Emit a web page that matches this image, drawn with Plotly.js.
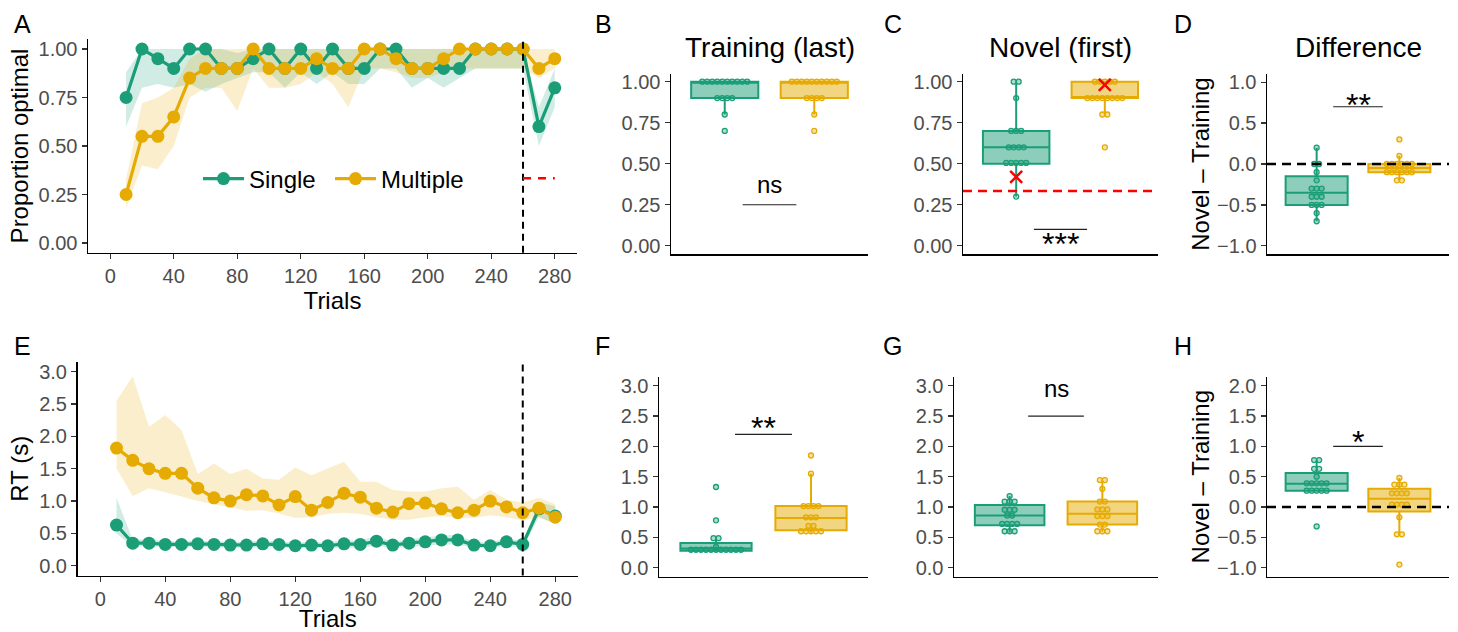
<!DOCTYPE html>
<html><head><meta charset="utf-8">
<script src="https://cdn.plot.ly/plotly-3.0.1.min.js"></script>
<style>html,body{margin:0;padding:0;background:#fff}#chart{width:1458px;height:632px}</style>
</head><body><div id="chart"></div>
<script>
// ---------------- data ----------------
const trials = [10,20,30,40,50,60,70,80,90,100,110,120,130,140,150,160,170,180,190,200,210,220,230,240,250,260,270,280];
const groups = ['Single','Multiple'];

// Panel A: proportion optimal per block
const propSingle   = [0.75,1.00,0.95,0.90,1.00,1.00,0.90,0.90,0.95,1.00,0.90,1.00,0.90,1.00,0.90,0.90,1.00,1.00,0.90,0.90,0.90,0.90,1.00,1.00,1.00,1.00,0.60,0.80];
const propSingleLo = [0.60,0.80,0.82,0.80,0.82,0.78,0.82,0.85,0.88,0.88,0.80,0.88,0.82,0.88,0.82,0.82,0.90,0.90,0.80,0.85,0.80,0.85,0.90,0.90,0.90,0.90,0.50,0.70];
const propSingleHi = [0.88,1.00,1.00,1.00,1.00,1.00,1.00,0.98,1.00,1.00,1.00,1.00,1.00,1.00,1.00,1.00,1.00,1.00,1.00,1.00,1.00,1.00,1.00,1.00,1.00,1.00,0.70,0.90];
const propMultiple   = [0.25,0.55,0.55,0.65,0.85,0.90,0.90,0.90,1.00,0.90,0.90,0.90,0.95,0.90,0.90,1.00,1.00,0.95,0.90,0.90,0.95,1.00,1.00,1.00,1.00,1.00,0.90,0.95];
const propMultipleLo = [0.18,0.40,0.38,0.50,0.75,0.80,0.80,0.68,0.90,0.80,0.80,0.82,0.88,0.82,0.70,0.90,0.90,0.88,0.85,0.85,0.88,0.90,0.90,0.90,0.90,0.90,0.85,0.90];
const propMultipleHi = [0.33,0.72,0.75,0.80,0.95,1.00,1.00,1.00,1.00,1.00,1.00,1.00,1.00,1.00,1.00,1.00,1.00,1.00,1.00,1.00,1.00,1.00,1.00,1.00,1.00,1.00,1.00,1.00];

// Panel E: RT per block
const rtSingle   = [0.63,0.35,0.35,0.33,0.33,0.34,0.33,0.32,0.32,0.34,0.33,0.31,0.32,0.31,0.34,0.33,0.38,0.32,0.35,0.37,0.40,0.40,0.32,0.31,0.37,0.33,0.88,0.77];
const rtSingleLo = [0.50,0.30,0.30,0.29,0.29,0.29,0.29,0.28,0.28,0.29,0.28,0.27,0.27,0.27,0.28,0.28,0.31,0.27,0.30,0.31,0.33,0.33,0.28,0.27,0.31,0.28,0.75,0.65];
const rtSingleHi = [1.05,0.40,0.42,0.38,0.38,0.39,0.38,0.37,0.37,0.39,0.38,0.36,0.37,0.36,0.40,0.39,0.46,0.37,0.41,0.44,0.47,0.48,0.37,0.36,0.43,0.38,0.98,0.92];
const rtMultiple   = [1.82,1.63,1.50,1.43,1.43,1.20,1.05,1.00,1.10,1.08,0.94,1.07,0.86,0.98,1.12,1.06,0.89,0.83,0.96,0.97,0.88,0.82,0.86,1.00,0.91,0.82,0.89,0.75];
const rtMultipleLo = [1.50,1.08,1.20,1.13,1.07,1.00,0.95,0.90,0.85,0.86,0.81,0.74,0.75,0.80,0.82,0.80,0.75,0.71,0.71,0.75,0.77,0.74,0.74,0.78,0.75,0.70,0.75,0.65];
const rtMultipleHi = [2.55,2.93,2.15,2.33,2.10,1.42,1.58,1.42,1.50,1.35,1.33,1.52,1.40,1.50,1.61,1.30,1.30,1.17,1.15,1.15,1.20,1.22,1.02,1.17,1.02,0.98,1.05,0.95];

// Panels B-D: proportion optimal per participant
const trainLastSingle   = [1,1,1,1,1,1,1,1,1,1,0.9,0.9,0.9,0.9,0.8,0.7];
const trainLastMultiple = [1,1,1,1,1,1,1,1,1,1,0.9,0.9,0.9,0.9,0.8,0.7];
const novelFirstSingle   = [1,1,0.9,0.7,0.7,0.7,0.6,0.6,0.6,0.6,0.51,0.5,0.5,0.5,0.5,0.3];
const novelFirstMultiple = [1,1,1,1,1,0.9,0.9,0.9,0.9,0.9,0.9,0.9,0.9,0.8,0.8,0.6];
const novelModel = [0.42, 0.98];
const diffPropSingle   = [0.2,0,0,-0.1,-0.2,-0.3,-0.3,-0.3,-0.4,-0.4,-0.4,-0.5,-0.5,-0.5,-0.6,-0.7];
const diffPropMultiple = [0.3,0.1,0,0,0,0,0,0,-0.1,-0.1,-0.1,-0.1,-0.1,-0.1,-0.2,-0.2];

// Panels F-H: RT per participant
const rtTrainSingle   = [0.26,0.27,0.27,0.28,0.28,0.29,0.30,0.31,0.32,0.33,0.33,0.34,0.47,0.50,0.78,1.33];
const rtTrainMultiple = [0.58,0.59,0.60,0.61,0.62,0.68,0.70,0.81,0.83,0.85,1.00,1.01,1.02,1.03,1.55,1.85];
const rtNovelSingle   = [0.58,0.60,0.62,0.68,0.72,0.74,0.76,0.84,0.88,0.92,0.97,0.99,1.08,1.09,1.10,1.18];
const rtNovelMultiple = [0.59,0.60,0.61,0.70,0.72,0.84,0.85,0.86,0.92,0.99,1.00,1.08,1.10,1.30,1.44,1.45];
const rtDiffSingle   = [-0.32,0.26,0.26,0.27,0.27,0.28,0.38,0.38,0.39,0.39,0.40,0.50,0.62,0.64,0.77,0.78];
const rtDiffMultiple = [-0.95,-0.46,-0.44,-0.17,0.02,0.03,0.04,0.06,0.21,0.22,0.23,0.24,0.36,0.37,0.38,0.48];

const chanceLevel = 1/3;
const switchTrial = 260;

// ---------------- styling ----------------
const W = 1458, H = 632;
const FONT = 'Liberation Sans, Arial, Helvetica, sans-serif';
const COL = ['#1B9E77', '#E6AB02'];
const BOXFILL = ['rgba(27,158,119,0.5)', 'rgba(230,171,2,0.5)'];
const DOTFILL = ['rgba(27,158,119,0.35)', 'rgba(230,171,2,0.35)'];
const RIB = ['rgba(27,158,119,0.2)', 'rgba(230,171,2,0.2)'];
const POS = [1, 2];
const LEGENDS = ['legend', 'legend2'];

function dxd(a, b) { return [a / W, b / W]; }
function dyd(top, bottom) { return [1 - bottom / H, 1 - top / H]; }

const traces = [];
function ribbon(x, lo, hi, color, xa, ya) {
  traces.push({type:'scatter', mode:'lines', x: x.concat(x.slice().reverse()),
    y: hi.concat(lo.slice().reverse()), fill:'toself', fillcolor: color,
    line:{width:0}, hoverinfo:'skip', showlegend:false, xaxis:xa, yaxis:ya});
}
function series(x, y, gi, xa, ya, showlegend) {
  traces.push({type:'scatter', mode:'lines+markers', name: groups[gi], x: x, y: y,
    line:{color: COL[gi], width:3.2}, marker:{color: COL[gi], size:13},
    showlegend: showlegend, legend: LEGENDS[gi], xaxis:xa, yaxis:ya});
}
function stackDots(vals, center, binw, step) {
  const s = vals.slice().sort((a, b) => a - b);
  const xs = [], ys = [];
  let i = 0;
  while (i < s.length) {
    let j = i;
    while (j + 1 < s.length && s[j + 1] - s[i] < binw) j++;
    const n = j - i + 1, yc = (s[i] + s[j]) / 2;
    for (let k = 0; k < n; k++) { xs.push(center + (k - (n - 1) / 2) * step); ys.push(yc); }
    i = j + 1;
  }
  return {xs, ys};
}
function boxPanel(xa, ya, sets, binw, widthPx) {
  const step = 5.0 / (widthPx / 2.2);
  sets.forEach((d, gi) => {
    traces.push({type:'box', y: d, x0: POS[gi], width: 0.75, name: groups[gi],
      boxpoints:'outliers', marker:{opacity:0, size:1}, whiskerwidth:0, fillcolor: BOXFILL[gi],
      line:{color: COL[gi], width:2}, showlegend:false, hoverinfo:'skip', xaxis:xa, yaxis:ya});
  });
  sets.forEach((d, gi) => {
    const s = stackDots(d, POS[gi], binw, step);
    traces.push({type:'scatter', mode:'markers', x: s.xs, y: s.ys,
      marker:{size:5, color: DOTFILL[gi], line:{color: COL[gi], width:1.3}},
      showlegend:false, hoverinfo:'skip', xaxis:xa, yaxis:ya});
  });
}

// Panel A
ribbon(trials, propSingleLo, propSingleHi, RIB[0], 'x', 'y');
ribbon(trials, propMultipleLo, propMultipleHi, RIB[1], 'x', 'y');
series(trials, propSingle, 0, 'x', 'y', true);
series(trials, propMultiple, 1, 'x', 'y', true);
// Panel E
ribbon(trials, rtSingleLo, rtSingleHi, RIB[0], 'x5', 'y5');
ribbon(trials, rtMultipleLo, rtMultipleHi, RIB[1], 'x5', 'y5');
series(trials, rtSingle, 0, 'x5', 'y5', false);
series(trials, rtMultiple, 1, 'x5', 'y5', false);

// Box panels
const PX = {
  x2:[671,868], x3:[963,1158], x4:[1267,1449],
  x6:[659,868], x7:[954,1158], x8:[1267,1449]
};
boxPanel('x2','y2',[trainLastSingle, trainLastMultiple], 0.05, PX.x2[1]-PX.x2[0]);
boxPanel('x3','y3',[novelFirstSingle, novelFirstMultiple], 0.05, PX.x3[1]-PX.x3[0]);
traces.push({type:'scatter', mode:'markers', x: POS, y: novelModel,
  marker:{symbol:'x-thin', size:12, line:{color:'#FF0000', width:2.5}},
  showlegend:false, hoverinfo:'skip', xaxis:'x3', yaxis:'y3'});
boxPanel('x4','y4',[diffPropSingle, diffPropMultiple], 0.05, PX.x4[1]-PX.x4[0]);
boxPanel('x6','y6',[rtTrainSingle, rtTrainMultiple], 0.08, PX.x6[1]-PX.x6[0]);
boxPanel('x7','y7',[rtNovelSingle, rtNovelMultiple], 0.08, PX.x7[1]-PX.x7[0]);
boxPanel('x8','y8',[rtDiffSingle, rtDiffMultiple], 0.08, PX.x8[1]-PX.x8[0]);

// ---------------- axes ----------------
const tickfont = {family: FONT, size: 20, color: '#4D4D4D'};
const titlefont = {family: FONT, size: 24, color: '#000'};
function yAx(domain, range, dtick, fmt, title, standoff) {
  const a = {domain, range, dtick, tick0: 0, tickformat: fmt, showgrid:false, zeroline:false,
    showline:true, linecolor:'#000', linewidth:1.5, ticks:'outside', ticklen:5,
    tickcolor:'#333', tickwidth:1.3, tickfont, fixedrange:true};
  if (title) a.title = {text: title, font: titlefont, standoff: standoff};
  return a;
}
function xTrials(domain, anchor) {
  return {domain, anchor, range:[-14, 294], tickvals:[0,40,80,120,160,200,240,280],
    showgrid:false, zeroline:false, showline:true, linecolor:'#000', linewidth:1.5,
    ticks:'outside', ticklen:5, tickcolor:'#333', tickwidth:1.3, tickfont,
    title:{text:'Trials', font: titlefont, standoff: 0}};
}
function xBox(domain, anchor) {
  return {domain, anchor, type:'linear', range:[0.4, 2.6], showticklabels:false, ticks:'',
    showgrid:false, zeroline:false, showline:true, linecolor:'#000', linewidth:1.5};
}
function legendAt(xpx) {
  return {orientation:'h', x: xpx / W, y: 1 - 179 / H, xanchor:'left', yanchor:'middle',
    font:{family: FONT, size: 24, color:'#000'}, bgcolor:'rgba(0,0,0,0)', itemwidth:41};
}

const layout = {
  width: W, height: H, margin:{l:0, r:0, t:0, b:0},
  paper_bgcolor:'#fff', plot_bgcolor:'rgba(0,0,0,0)',
  font:{family: FONT, color:'#000'},
  showlegend: true,
  legend: legendAt(198),
  legend2: legendAt(330),
  xaxis: xTrials(dxd(88, 577), 'y'),
  yaxis: Object.assign(yAx(dyd(39.3, 252.7), [-0.05, 1.05], 0.25, '.2f', 'Proportion optimal', 3), {anchor:'x'}),
  xaxis2: xBox(dxd(671, 868), 'y2'),
  yaxis2: Object.assign(yAx(dyd(73.5, 254), [-0.05, 1.05], 0.25, '.2f'), {anchor:'x2'}),
  xaxis3: xBox(dxd(963, 1158), 'y3'),
  yaxis3: Object.assign(yAx(dyd(73.5, 254), [-0.05, 1.05], 0.25, '.2f'), {anchor:'x3'}),
  xaxis4: xBox(dxd(1267, 1449), 'y4'),
  yaxis4: Object.assign(yAx(dyd(74, 254), [-1.1, 1.1], 0.5, '.1f', 'Novel \u2013 Training', 0), {anchor:'x4'}),
  xaxis5: xTrials(dxd(77.5, 578), 'y5'),
  yaxis5: Object.assign(yAx(dyd(362, 575.5), [-0.15, 3.15], 0.5, '.1f', 'RT (s)', 4), {anchor:'x5'}),
  xaxis6: xBox(dxd(659, 868), 'y6'),
  yaxis6: Object.assign(yAx(dyd(376.7, 576.7), [-0.15, 3.15], 0.5, '.1f'), {anchor:'x6'}),
  xaxis7: xBox(dxd(954, 1158), 'y7'),
  yaxis7: Object.assign(yAx(dyd(376.7, 576.7), [-0.15, 3.15], 0.5, '.1f'), {anchor:'x7'}),
  xaxis8: xBox(dxd(1267, 1449), 'y8'),
  yaxis8: Object.assign(yAx(dyd(376.7, 576.7), [-1.15, 2.15], 0.5, '.1f', 'Novel \u2013 Training', 0), {anchor:'x8'}),
  shapes: [],
  annotations: []
};

// reference lines
const dash = {color:'#000', width:2, dash:'7px,5px'};
layout.shapes.push({type:'line', xref:'x', yref:'y domain', x0: switchTrial, x1: switchTrial, y0:0, y1:1, line: dash});
layout.shapes.push({type:'line', xref:'x5', yref:'y5 domain', x0: switchTrial, x1: switchTrial, y0:0, y1:1, line: dash});
layout.shapes.push({type:'line', xref:'x', yref:'y', x0: switchTrial, x1: trials[trials.length-1], y0: chanceLevel, y1: chanceLevel,
  line:{color:'#FF0000', width:2.5, dash:'8px,7px'}});
layout.shapes.push({type:'line', xref:'x3 domain', yref:'y3', x0:0, x1:1, y0: chanceLevel, y1: chanceLevel,
  line:{color:'#FF0000', width:2.5, dash:'9px,6px'}});
layout.shapes.push({type:'line', xref:'x4 domain', yref:'y4', x0:0, x1:1, y0:0, y1:0, line:{color:'#000', width:2.5, dash:'9px,6px'}});
layout.shapes.push({type:'line', xref:'x8 domain', yref:'y8', x0:0, x1:1, y0:0, y1:0, line:{color:'#000', width:2.5, dash:'9px,6px'}});

// significance brackets
const sig = [
  {ax:'2', y:0.25, label:'ns', ty:0.38, size:24, shift:-1},
  {ax:'3', y:0.10, label:'***', ty:0.045, size:32, shift:-6},
  {ax:'4', y:0.70, label:'**', ty:0.82, size:32, shift:-8},
  {ax:'6', y:2.2, label:'**', ty:2.43, size:32, shift:-8},
  {ax:'7', y:2.5, label:'ns', ty:2.97, size:24, shift:-1},
  {ax:'8', y:1.0, label:'*', ty:1.2, size:32, shift:-8}
];
sig.forEach(s => {
  layout.shapes.push({type:'line', xref:'x'+s.ax, yref:'y'+s.ax, x0:1.2, x1:1.8, y0:s.y, y1:s.y, line:{color:'#222', width:1.2}});
  layout.annotations.push({xref:'x'+s.ax, yref:'y'+s.ax, x:1.5, y:s.ty, text:s.label, showarrow:false,
    xanchor:'center', yanchor:'middle', yshift:s.shift, font:{family:FONT, size:s.size, color:'#000'}});
});

// panel titles
[['x2','Training (last)'],['x3','Novel (first)'],['x4','Difference']].forEach(t => {
  layout.annotations.push({xref: t[0] + ' domain', yref:'paper', x:0.5, y: 1 - 48 / H, text: t[1], showarrow:false,
    xanchor:'center', yanchor:'middle', font:{family:FONT, size:28, color:'#000'}});
});
// panel letters
[['A',12,24],['B',593,24],['C',882,24],['D',1172,24],['E',12,346],['F',593,346],['G',881,346],['H',1172,346]].forEach(l => {
  layout.annotations.push({xref:'paper', yref:'paper', x: l[1] / W, y: 1 - l[2] / H, text: l[0], showarrow:false,
    xanchor:'left', yanchor:'middle', font:{family:FONT, size:25, color:'#000'}});
});

Plotly.newPlot('chart', traces, layout, {displayModeBar:false, staticPlot:true});
</script></body></html>
